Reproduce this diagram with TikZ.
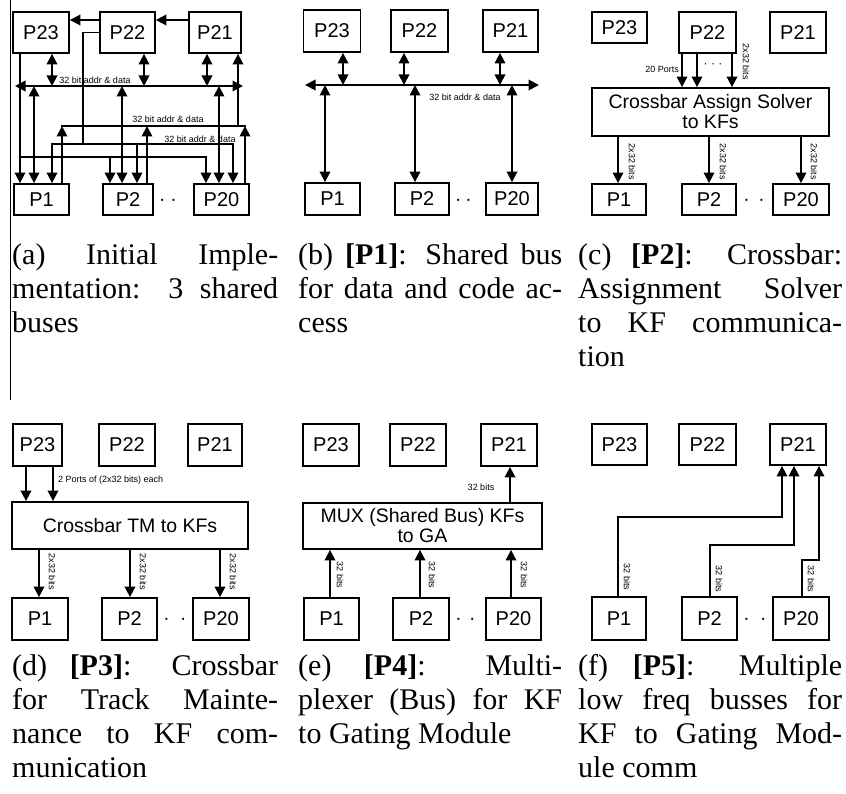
\documentclass[tikz,border=0pt]{standalone}
\usepackage{fontspec}
\setmainfont{Liberation Serif}
\setsansfont{Liberation Sans}
\usetikzlibrary{arrows.meta}
\newcommand{\capfull}[2]{\hbox to #1{#2}}
\newcommand{\capend}[1]{\hbox{#1}}
\newcommand{\capbox}[1]{\vtop{\baselineskip=34pt #1}}

\begin{document}
\begin{tikzpicture}[
    x=1pt,y=-1pt,
    >={Triangle[length=10.5pt,width=10.5pt]},
    pbox/.style={draw,line width=1.8pt,minimum width=55,minimum height=41,
                 inner sep=0pt,font=\sffamily\fontsize{20}{20}\selectfont},
    xbar/.style={pbox,align=center,font=\sffamily\fontsize{19.5}{20}\selectfont},
    wire/.style={line width=1.8pt,line cap=rect},
    arr/.style={wire,->},
    darr/.style={wire,<->},
    lab/.style={inner sep=0pt,font=\sffamily\fontsize{9}{10}\selectfont},
    vlab/.style={lab,rotate=-90},
    dots/.style={inner sep=0pt,font=\sffamily\fontsize{19}{20}\selectfont},
    capt/.style={inner sep=0pt,anchor=base west,font=\fontsize{30}{34}\selectfont}
  ]
  \useasboundingbox (0,0) rectangle (846,794);
  \draw[line width=1.2pt] (10.5,0) -- (10.5,400);

  \node[pbox,minimum width=56] (P23a) at (41,32.5) {P23};
  \node[pbox] (P22a) at (127.5,32.5) {P22};
  \node[pbox,minimum width=52] (P21a) at (215,32.5) {P21};
  \node[pbox,minimum height=31] (P1a) at (41.5,199.5) {P1};
  \node[pbox,minimum width=50,minimum height=31] (P2a) at (128,199.5) {P2};
  \node[pbox,minimum height=31] (P20a) at (221.5,199.5) {P20};
  \node[dots] (dotsA) at (168,202) {·\hspace{5pt}·};
  \coordinate (busA1) at (15,86);
  \coordinate (busA2) at (62,126);
  \coordinate (busA3) at (52,144);
  \coordinate (busA4) at (20,157);

  \draw[arr] (P21a.west |- 0,20) -- (P22a.east |- 0,20);
  \draw[arr] (P22a.west |- 0,20) -- (P23a.east |- 0,20);

  \draw[darr] (busA1) -- (243,0 |- busA1);
  \draw[darr] (P23a.south -| 52,0) -- (52,0 |- busA1);
  \draw[darr] (P22a.south -| 144,0) -- (144,0 |- busA1);
  \draw[darr] (P21a.south -| 207,0) -- (207,0 |- busA1);
  \draw[darr] (34,0 |- busA1) -- (P1a.north -| 34,0);
  \draw[darr] (122,0 |- busA1) -- (P2a.north -| 122,0);
  \draw[darr] (219,0 |- busA1) -- (P20a.north -| 219,0);
  \node[lab] (labA1) at (95,80) {32 bit addr \& data};

  \draw[wire] (busA2) -- (245,0 |- busA2);
  \draw[arr] (P1a.north -| busA2) -- (busA2);
  \draw[arr] (P2a.north -| 147,0) -- (147,0 |- busA2);
  \draw[arr] (P20a.north -| 245,0) -- (245,0 |- busA2);
  \draw[arr] (238,0 |- busA2) -- (P21a.south -| 238,0);
  \node[lab] (labA2) at (168,119) {32 bit addr \& data};

  \draw[wire] (P22a.west) -| (83,0 |- busA3);
  \draw[wire] (busA3) -- (233,0 |- busA3);
  \draw[arr] (busA3) -- (P1a.north -| busA3);
  \draw[arr] (137,0 |- busA3) -- (P2a.north -| 137,0);
  \draw[arr] (233,0 |- busA3) -- (P20a.north -| 233,0);
  \node[lab] (labA3) at (200,139) {32 bit addr \& data};

  \draw[arr] (P23a.south -| busA4) -- (P1a.north -| busA4);
  \draw[wire] (busA4) -- (206,0 |- busA4);
  \draw[arr] (110,0 |- busA4) -- (P2a.north -| 110,0);
  \draw[arr] (206,0 |- busA4) -- (P20a.north -| 206,0);

  \node[pbox,minimum width=57,minimum height=42] (P23b) at (332,31) {P23};
  \node[pbox,minimum width=57,minimum height=42] (P22b) at (419.5,31) {P22};
  \node[pbox,minimum height=42] (P21b) at (510.5,31) {P21};
  \node[pbox,minimum height=32] (P1b) at (332.5,199) {P1};
  \node[pbox,minimum width=54,minimum height=32] (P2b) at (422,199) {P2};
  \node[pbox,minimum width=52,minimum height=32] (P20b) at (512,199) {P20};
  \node[dots] (dotsB) at (463.5,202) {·\hspace{4pt}·};
  \coordinate (busB) at (305,85);
  \draw[darr] (busB) -- (539,0 |- busB);
  \draw[darr] (P23b.south -| 343,0) -- (343,0 |- busB);
  \draw[darr] (P22b.south -| 404,0) -- (404,0 |- busB);
  \draw[darr] (P21b.south -| 500,0) -- (500,0 |- busB);
  \draw[darr] (325,0 |- busB) -- (P1b.north -| 325,0);
  \draw[darr] (415,0 |- busB) -- (P2b.north -| 415,0);
  \draw[darr] (512,0 |- busB) -- (P20b.north -| 512,0);
  \node[lab] (labB) at (465,97) {32 bit addr \& data};

  \node[pbox,minimum height=31] (P23c) at (619.5,27.5) {P23};
  \node[pbox,minimum width=57] (P22c) at (707.5,32.5) {P22};
  \node[pbox,minimum width=56] (P21c) at (798,32.5) {P21};
  \node[xbar,minimum width=237,minimum height=48] (XBc) at (710.5,112)
    {Crossbar Assign Solver\\to KFs};
  \node[pbox,minimum width=54,minimum height=31] (P1c) at (619,199.5) {P1};
  \node[pbox,minimum width=54,minimum height=31] (P2c) at (709,199.5) {P2};
  \node[pbox,minimum width=56,minimum height=31] (P20c) at (801,199.5) {P20};
  \node[dots] (dotsC) at (754,202) {·\hspace{8.5pt}·};
  \draw[arr] (P22c.south -| 682,0) -- (XBc.north -| 682,0);
  \draw[arr] (P22c.south -| 697,0) -- (XBc.north -| 697,0);
  \draw[arr] (P22c.south -| 732,0) -- (XBc.north -| 732,0);
  \node[lab,font=\sffamily\fontsize{12}{12}\selectfont] (dotsC0) at (713,66) {· · ·};
  \node[lab,anchor=east] (labC0) at (679,69) {20 Ports};
  \node[vlab] (labC1) at (746,62) {2x32 bits};
  \draw[arr] (XBc.south -| 618,0) -- (P1c.north -| 618,0);
  \draw[arr] (XBc.south -| 709,0) -- (P2c.north -| 709,0);
  \draw[arr] (XBc.south -| 801,0) -- (P20c.north -| 801,0);
  \node[vlab] (labC2) at (632,162) {2x32 bits};
  \node[vlab] (labC3) at (723,162) {2x32 bits};
  \node[vlab] (labC4) at (814,162) {2x32 bits};

  \node[pbox,minimum width=49,minimum height=42] (P23d) at (37.5,445) {P23};
  \node[pbox,minimum width=56,minimum height=42] (P22d) at (127,445) {P22};
  \node[pbox,minimum width=54,minimum height=42] (P21d) at (215,445) {P21};
  \node[xbar,minimum width=236,minimum height=47] (XBd) at (130,525.5) {Crossbar TM to KFs};
  \node[pbox,minimum width=56,minimum height=42] (P1d) at (40,619) {P1};
  \node[pbox,minimum width=55,minimum height=42] (P2d) at (129.5,619) {P2};
  \node[pbox,minimum width=56,minimum height=42] (P20d) at (221,619) {P20};
  \node[dots] (dotsD) at (175,621) {·\hspace{10.5pt}·};
  \draw[arr] (P23d.south -| 26,0) -- (XBd.north -| 26,0);
  \draw[arr] (P23d.south -| 53,0) -- (XBd.north -| 53,0);
  \node[lab,anchor=west] (labD0) at (58,480) {2 Ports of (2x32 bits) each};
  \draw[arr] (XBd.south -| 39,0) -- (P1d.north -| 39,0);
  \draw[arr] (XBd.south -| 130,0) -- (P2d.north -| 130,0);
  \draw[arr] (XBd.south -| 220,0) -- (P20d.north -| 220,0);
  \node[vlab] (labD1) at (52,572) {2x32 bits};
  \node[vlab] (labD2) at (143,572) {2x32 bits};
  \node[vlab] (labD3) at (233,572) {2x32 bits};

  \node[pbox,minimum width=56,minimum height=42] (P23e) at (331,445) {P23};
  \node[pbox,minimum width=56,minimum height=42] (P22e) at (418,445) {P22};
  \node[pbox,minimum width=56,minimum height=42] (P21e) at (509,445) {P21};
  \node[xbar,minimum width=239,minimum height=46] (MUXe) at (422.5,526)
    {MUX (Shared Bus) KFs\\to GA};
  \node[pbox,minimum height=42] (P1e) at (331.5,619) {P1};
  \node[pbox,minimum width=56,minimum height=42] (P2e) at (421,619) {P2};
  \node[pbox,minimum height=42] (P20e) at (513.5,619) {P20};
  \node[dots] (dotsE) at (465.5,621) {·\hspace{7.5pt}·};
  \draw[arr] (MUXe.north -| 510,0) -- (P21e.south -| 510,0);
  \node[lab] (labE0) at (481,487) {32 bits};
  \draw[arr] (P1e.north -| 330,0) -- (MUXe.south -| 330,0);
  \draw[arr] (P2e.north -| 420,0) -- (MUXe.south -| 420,0);
  \draw[arr] (P20e.north -| 511,0) -- (MUXe.south -| 511,0);
  \node[vlab] (labE1) at (340,575) {32 bits};
  \node[vlab] (labE2) at (432,575) {32 bits};
  \node[vlab] (labE3) at (524,575) {32 bits};

  \node[pbox,minimum height=41] (P23f) at (619.5,444.5) {P23};
  \node[pbox,minimum width=57,minimum height=41] (P22f) at (707.5,444.5) {P22};
  \node[pbox,minimum width=56,minimum height=41] (P21f) at (798,444.5) {P21};
  \node[pbox,minimum width=54,minimum height=43] (P1f) at (619,618.5) {P1};
  \node[pbox,minimum height=43] (P2f) at (709.5,618.5) {P2};
  \node[pbox,minimum width=56,minimum height=43] (P20f) at (801,618.5) {P20};
  \node[dots] (dotsF) at (755,621) {·\hspace{10.5pt}·};
  \draw[arr] (P1f.north -| 618,0) |- (782,517) -- (P21f.south -| 782,0);
  \draw[arr] (P2f.north -| 710,0) |- (794,545) -- (P21f.south -| 794,0);
  \draw[arr] (P20f.north -| 802,0) |- (819,560) -- (P21f.south -| 819,0);
  \node[vlab] (labF1) at (627,577) {32 bits};
  \node[vlab] (labF2) at (719,579) {32 bits};
  \node[vlab] (labF3) at (811,579) {32 bits};

  \node[capt] (capA) at (12,265) {\capbox{\capfull{266pt}{(a) Initial Imple-}%
    \capfull{266pt}{mentation: 3 shared}\capend{buses}}};
  \node[capt] (capB) at (298,265) {\capbox{\capfull{264pt}{(b) \textbf{[P1]}: Shared bus}%
    \capfull{264pt}{for data and code ac-}\capend{cess}}};
  \node[capt] (capC) at (578,265) {\capbox{\capfull{264pt}{(c) \textbf{[P2]}: Crossbar:}%
    \capfull{264pt}{Assignment Solver}\capfull{264pt}{to KF communica-}\capend{tion}}};
  \node[capt] (capD) at (12,675) {\capbox{\capfull{266pt}{(d) \textbf{[P3]}: Crossbar}%
    \capfull{266pt}{for Track Mainte-}\capfull{266pt}{nance to KF com-}\capend{munication}}};
  \node[capt] (capE) at (298,675) {\capbox{\capfull{264pt}{(e) \textbf{[P4]}: Multi-}%
    \capfull{264pt}{plexer (Bus) for KF}\capend{to Gating Module}}};
  \node[capt] (capF) at (578,675) {\capbox{\capfull{264pt}{(f) \textbf{[P5]}: Multiple}%
    \capfull{264pt}{low freq busses for}\capfull{264pt}{KF to Gating Mod-}\capend{ule comm}}};
\end{tikzpicture}
\end{document}
